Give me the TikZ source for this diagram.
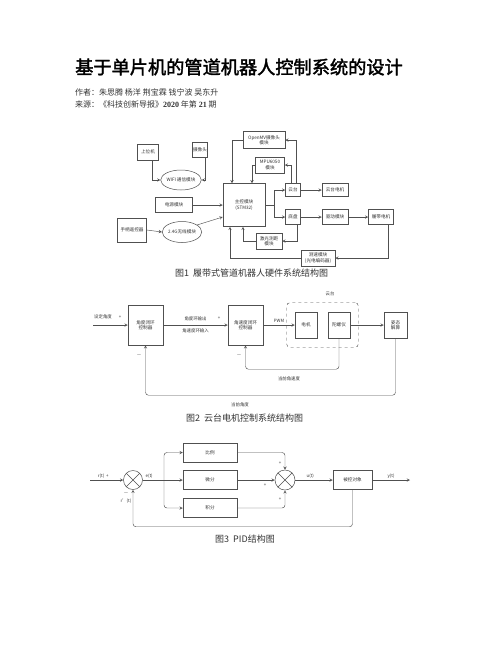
\documentclass[tikz,border=0pt]{standalone}
\usepackage{fontspec}
\usepackage{xcolor}
\setmainfont{Noto Sans CJK SC}
\newfontfamily\titlefont{Noto Sans CJK SC}[FakeBold=2]
\newfontfamily\numfont{Liberation Serif}
\usetikzlibrary{shapes.geometric, arrows, positioning, fit}
\definecolor{linegray}{HTML}{505050}
\definecolor{textgray}{HTML}{333333}
\newcommand\boxfont{\fontsize{4.6}{5.4}\selectfont}
\newcommand\labfont{\fontsize{4.4}{5}\selectfont}
\newcommand\capfont{\fontsize{9}{10}\selectfont}

\begin{document}
\begin{tikzpicture}[x=1pt, y=-1pt]
\tikzstyle{component}=[rectangle, draw=linegray, fill=white, line width=0.5pt, inner sep=0pt, align=center, font=\boxfont, text=textgray]
\tikzstyle{oval}=[ellipse, draw=linegray, fill=white, line width=0.5pt, inner sep=0pt, align=center, font=\boxfont, text=textgray]
\tikzstyle{sumnode}=[circle, draw=linegray, fill=white, line width=0.5pt, minimum size=19pt, inner sep=0pt]
\tikzstyle{arrow}=[draw=linegray, line width=0.45pt, ->, >=stealth]
\tikzstyle{wire}=[draw=linegray, line width=0.45pt]
\tikzstyle{lab}=[font=\labfont, text=textgray, inner sep=1pt]
\tikzstyle{caption}=[font=\capfont, text=textgray, anchor=west, inner sep=0pt]

\fill[white] (0,0) rectangle (502,649);
\useasboundingbox (0,0) rectangle (502,649);

% title block
\node (title) [anchor=west, inner sep=0pt, font=\titlefont\fontsize{18.2}{20}\selectfont] at (75,67) {基于单片机的管道机器人控制系统的设计};
\node (authors) [anchor=west, inner sep=0pt, font=\fontsize{8}{9}\selectfont, text=textgray] at (75,92) {作者：朱思腾 杨洋 荆宝霖 钱宁波 吴东升};
\node (source) [anchor=west, inner sep=0pt, font=\fontsize{8}{9}\selectfont, text=textgray] at (75,104) {来源：《科技创新导报》{\numfont\bfseries 2020} 年第 {\numfont\bfseries 21} 期};

% figure 1: hardware
\node (host) [component, minimum width=21pt, minimum height=16pt] at (148,152) {上位机};
\node (cam) [component, minimum width=15pt, minimum height=15pt] at (200,150) {摄像头};
\node (wifi) [oval, minimum width=36pt, minimum height=20pt] at (181,180) {WIFI 通信模块};
\node (power) [component, minimum width=37pt, minimum height=15pt] at (174,205) {电源模块};
\node (remote) [component, minimum width=29pt, minimum height=24pt] at (132,230) {手柄遥控器};
\node (rf) [oval, minimum width=37pt, minimum height=21pt] at (182,232) {2.4G无线模块};
\node (mcu) [component, minimum width=42pt, minimum height=43pt] at (244,205) {主控模块\\(STM32)};
\node (openmv) [component, minimum width=42pt, minimum height=17pt] at (264,140) {OpenMV摄像头\\模块};
\node (mpu) [component, minimum width=29pt, minimum height=16pt] at (270,165) {MPU6050\\模块};
\node (gimbal) [component, minimum width=15pt, minimum height=13pt] at (293,190) {云台};
\node (gmotor) [component, minimum width=26pt, minimum height=13pt] at (335,190) {云台电机};
\node (chassis) [component, minimum width=15pt, minimum height=15pt] at (293,217) {底盘};
\node (driver) [component, minimum width=26pt, minimum height=15pt] at (335,217) {驱动模块};
\node (track) [component, minimum width=25pt, minimum height=15pt] at (381,217) {履带电机};
\node (laser) [component, minimum width=26pt, minimum height=16pt] at (269,241) {激光测距\\模块};
\node (speed) [component, minimum width=34pt, minimum height=16pt] at (318,258) {测速模块\\(光电编码器)};

\draw [arrow] ([xshift=4pt]host.south) |- (wifi.west);
\draw [arrow] ([xshift=5pt]cam.south) |- (wifi.east);
\draw [arrow] (power.east) -- (power.east -| mcu.west);
\draw [arrow] (remote.east) -- (rf.west);
\draw [arrow] (rf.25) -- ([yshift=-12pt]mcu.west);
\draw [arrow] (openmv.west) -| ([xshift=-12pt]mcu.north);
\draw [arrow] (mpu.west) -| ([xshift=8pt]mcu.north);
\draw [arrow] ([xshift=3pt]gimbal.north) |- (openmv.east);
\draw [arrow] ([xshift=-2pt]gimbal.north) |- (mpu.east);
\draw [arrow] (mcu.east) -- ++(9,0) |- (gimbal.west);
\draw [arrow] (mcu.east) -- ++(9,0) |- (chassis.west);
\draw [arrow] (gimbal) -- (gmotor);
\draw [arrow] (chassis) -- (driver);
\draw [arrow] (driver) -- (track);
\draw [arrow] ([xshift=4pt]chassis.south) |- (laser.east);
\draw [arrow] (laser.west) -| ([xshift=-1pt]mcu.south);
\draw [arrow] ([xshift=7pt]track.south) |- (speed.east);
\draw [arrow] (speed.west) -| ([xshift=-14pt]mcu.south);

\node (cap1) [caption] at (175,273) {图1\ \ 履带式管道机器人硬件系统结构图};

% figure 2: gimbal motor loop
\coordinate (setin) at (93,325);
\node (angc) [component, minimum width=35pt, minimum height=40pt] at (145.5,325) {角度闭环\\控制器};
\node (ratec) [component, minimum width=35pt, minimum height=40pt] at (245.5,325) {角速度闭环\\控制器};
\node (motor) [component, minimum width=22pt, minimum height=26pt] at (306,325) {电机};
\node (gyro) [component, minimum width=22pt, minimum height=26pt] at (339,325) {陀螺仪};
\node (att) [component, minimum width=23pt, minimum height=26pt] at (395.5,325) {姿态\\解算};
\node (gimbalbox) [draw=linegray, dashed, rounded corners=3pt, line width=0.45pt, fit=(motor)(gyro), inner xsep=8pt, inner ysep=9pt] {};
\node (gimballab) [lab] at (330,294) {云台};

\node (setlab) [lab] at (103,317) {设定角度};
\node (plus1) [lab] at (120,317) {+};
\node (plus2) [lab] at (219,318) {+};
\node (minus1) [lab] at (139,355) {$-$};
\node (minus2) [lab] at (239,355) {$-$};

\draw [arrow] (setin) -- (angc.west);
\draw [arrow] (angc) -- node[lab, above=3pt] {角度环输出} node[lab, below=3pt] {角速度环输入} (ratec);
\draw [arrow] (ratec) -- node[lab, above=1pt] {PWM} (motor);
\draw [arrow] (gyro) -- (att);
\draw [arrow, rounded corners=3pt] (gyro.south) -- ++(0,31) -| (ratec.south);
\draw [arrow, rounded corners=3pt] (att.south) -- ++(0,57) -| (angc.south);
\node (ratelab) [lab] at (289,379) {当前角速度};
\node (anglelab) [lab] at (240,405) {当前角度};

\node (cap2) [caption] at (186,418) {图2\ \ 云台电机控制系统结构图};

% figure 3: PID
\coordinate (rin) at (90,480);
\node (sum1) [sumnode] at (133,480) {};
\draw [wire] (sum1.north east) -- (sum1.south west) (sum1.north west) -- (sum1.south east);
\coordinate (split) at (164,480);
\node (prop) [component, minimum width=54pt, minimum height=19pt] at (210,452.5) {比例};
\node (deriv) [component, minimum width=54pt, minimum height=19pt] at (210,480) {微分};
\node (integ) [component, minimum width=54pt, minimum height=19pt] at (210,508) {积分};
\node (sum2) [sumnode, minimum size=20pt] at (285,480) {};
\draw [wire] (sum2.north east) -- (sum2.south west) (sum2.north west) -- (sum2.south east);
\node (plant) [component, minimum width=39pt, minimum height=19pt] at (352.5,480) {被控对象};
\coordinate (yout) at (410,480);

\draw [arrow] (rin) -- node[lab, above, pos=0.4] {r(t)\ \ +} (sum1.west);
\draw [wire] (sum1.east) -- node[lab, above, pos=0.3] {e(t)} (split);
\draw [arrow, rounded corners=3pt] (split) |- (prop.west);
\draw [arrow] (split) -- (deriv.west);
\draw [arrow, rounded corners=3pt] (split) |- (integ.west);
\draw [arrow, rounded corners=3pt] (prop.east) -| (sum2.north);
\draw [arrow] (deriv.east) -- (sum2.west);
\draw [arrow, rounded corners=3pt] (integ.east) -| (sum2.south);
\draw [arrow] (sum2.east) -- node[lab, above, pos=0.4] {u(t)} (plant.west);
\draw [arrow] (plant.east) -- node[lab, above] {y(t)} (yout);
\draw [arrow, rounded corners=3pt] (plant.south) -- ++(0,37) -| (sum1.south);

\node (plusa) [lab] at (280,463) {+};
\node (plusb) [lab] at (265,485) {+};
\node (plusc) [lab] at (280,499) {+};
\node (minus3) [lab] at (126,493) {$-$};
\node (rprime) [lab] at (126,501) {r'(t)};

\node (cap3) [caption] at (215,539) {图3\ \ PID结构图};
\end{tikzpicture}
\end{document}
